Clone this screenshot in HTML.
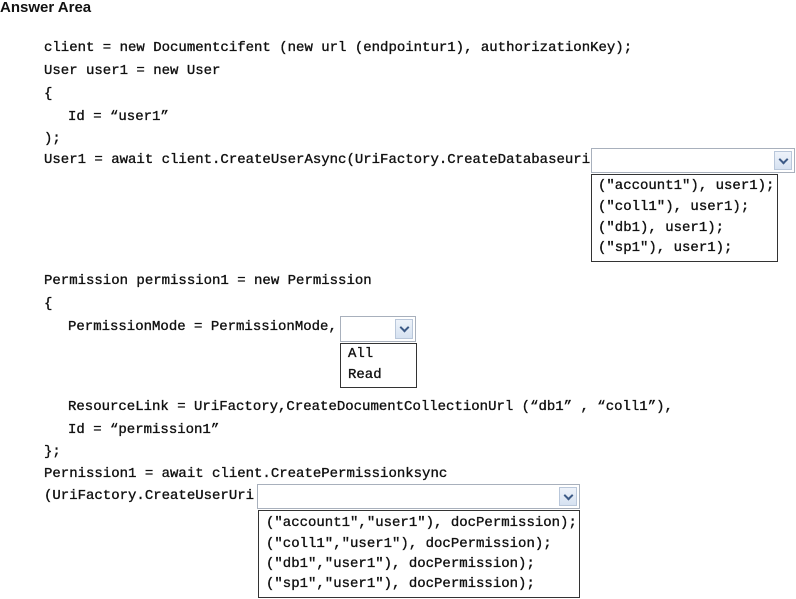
<!DOCTYPE html>
<html><head><style>
body{margin:0;width:796px;height:599px;background:#fff;position:relative;overflow:hidden;font-family:"Liberation Mono",monospace;font-size:14px;color:#111}
.t{position:absolute;white-space:pre;line-height:16px;-webkit-text-stroke:0.35px #111}
.h{font-family:"Liberation Sans",sans-serif;font-weight:bold;font-size:15px;left:0;top:0;-webkit-text-stroke:0}
.dd{position:absolute;border:1px solid #a8b0bc;background:#fff;box-sizing:border-box}
.btn{position:absolute;right:2px;top:2px;bottom:2px;width:18px;background:linear-gradient(#eef3fa,#d6e2f1);border:1px solid #b9c7da;box-sizing:border-box}
.btn:after{content:"";position:absolute;left:5px;top:4px;width:5px;height:5px;border-right:2px solid #3c5a86;border-bottom:2px solid #3c5a86;transform:rotate(45deg)}
.ls{position:absolute;border:1px solid #333;box-sizing:border-box;background:#fff}
</style></head><body>
<div class="t h">Answer Area</div>
<div class="t" style="left:44px;top:40px">client = new Documentcifent (new url (endpointur1), authorizationKey);</div>
<div class="t" style="left:44px;top:63px">User user1 = new User</div>
<div class="t" style="left:44px;top:86px">{</div>
<div class="t" style="left:68px;top:109px">Id = “user1”</div>
<div class="t" style="left:44px;top:131px">);</div>
<div class="t" style="left:44px;top:152px">User1 = await client.CreateUserAsync(UriFactory.CreateDatabaseuri</div>
<div class="dd" style="left:591px;top:148px;width:204px;height:25px"><div class="btn"></div></div>
<div class="ls" style="left:591px;top:174px;width:187px;height:88px"></div>
<div class="t" style="left:598px;top:178px">("account1"), user1);</div>
<div class="t" style="left:598px;top:199px">("coll1"), user1);</div>
<div class="t" style="left:598px;top:220px">("db1), user1);</div>
<div class="t" style="left:598px;top:240px">("sp1"), user1);</div>
<div class="t" style="left:44px;top:273px">Permission permission1 = new Permission</div>
<div class="t" style="left:44px;top:296px">{</div>
<div class="t" style="left:68px;top:319px">PermissionMode = PermissionMode,</div>
<div class="dd" style="left:340px;top:316px;width:76px;height:26px"><div class="btn"></div></div>
<div class="ls" style="left:340px;top:343px;width:77px;height:45px"></div>
<div class="t" style="left:348px;top:346px">All</div>
<div class="t" style="left:348px;top:367px">Read</div>
<div class="t" style="left:68px;top:399px">ResourceLink = UriFactory,CreateDocumentCollectionUrl (“db1” , “coll1”),</div>
<div class="t" style="left:68px;top:422px">Id = “permission1”</div>
<div class="t" style="left:44px;top:444px">};</div>
<div class="t" style="left:44px;top:466px">Pernission1 = await client.CreatePermissionksync</div>
<div class="t" style="left:44px;top:488px">(UriFactory.CreateUserUri</div>
<div class="dd" style="left:257px;top:484px;width:323px;height:25px"><div class="btn"></div></div>
<div class="ls" style="left:258px;top:510px;width:322px;height:88px"></div>
<div class="t" style="left:266px;top:515px">("account1","user1"), docPermission);</div>
<div class="t" style="left:266px;top:536px">("coll1","user1"), docPermission);</div>
<div class="t" style="left:266px;top:556px">("db1","user1"), docPermission);</div>
<div class="t" style="left:266px;top:576px">("sp1","user1"), docPermission);</div>
</body></html>
